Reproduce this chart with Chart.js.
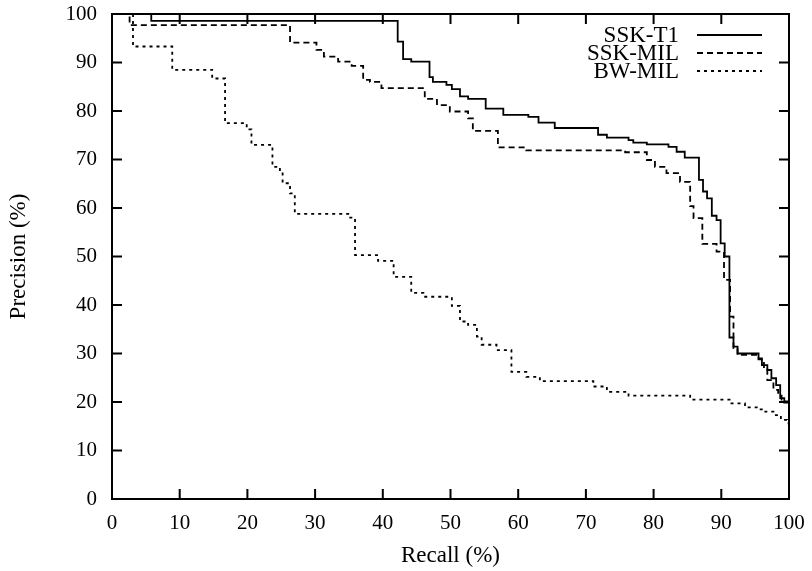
<!DOCTYPE html>
<html><head><meta charset="utf-8">
<script src="https://cdn.jsdelivr.net/npm/chart.js@4.4.1/dist/chart.umd.min.js"></script>
<style>html,body{margin:0;padding:0;background:#fff}#wrap{width:812px;height:571px}</style>
</head><body><div id="wrap"><canvas id="c" width="812" height="571"></canvas></div>
<script>
const seriesNames = ['SSK-T1', 'SSK-MIL', 'BW-MIL'];
const xTicks = [0, 10, 20, 30, 40, 50, 60, 70, 80, 90, 100];
const yTicks = [0, 10, 20, 30, 40, 50, 60, 70, 80, 90, 100];

const sskT1Recall = [0, 5.8, 42.2, 43.0, 44.2, 46.9, 47.4, 49.4, 50.2, 51.4, 52.6, 55.2, 57.8, 61.5, 63.0, 65.4, 71.8, 73.1, 76.3, 77.0, 79.0, 82.2, 83.4, 84.6, 86.7, 87.3, 87.9, 88.6, 89.3, 89.9, 90.5, 91.2, 91.8, 92.4, 95.5, 96.0, 96.8, 97.4, 98.1, 98.7, 99.3, 100];
const sskT1Precision = [100, 98.6, 94.3, 90.7, 90.2, 87.0, 86.0, 85.4, 84.5, 83.0, 82.5, 80.5, 79.2, 78.8, 77.6, 76.5, 75.1, 74.5, 74.0, 73.5, 73.1, 72.6, 71.6, 70.4, 65.8, 63.4, 62.0, 58.4, 57.5, 52.7, 50.0, 33.3, 31.4, 30.0, 29.0, 27.6, 26.6, 24.9, 23.5, 20.8, 19.9, 19.9];

const sskMilRecall = [0, 2.6, 26.3, 30.2, 31.3, 33.4, 35.4, 37.1, 38.1, 39.8, 46.2, 48.0, 49.9, 52.6, 53.3, 57.0, 61.2, 75.8, 79.0, 80.2, 81.9, 83.9, 85.4, 85.9, 87.2, 89.3, 90.4, 91.3, 91.8, 92.4, 95.5, 96.3, 96.8, 97.7, 98.4, 98.9, 100];
const sskMilPrecision = [100, 97.7, 94.1, 92.6, 91.2, 90.2, 89.3, 86.4, 86.0, 84.7, 82.5, 81.2, 79.9, 78.5, 75.9, 72.5, 71.9, 71.5, 69.9, 68.5, 67.2, 65.4, 60.4, 57.9, 52.6, 51.0, 45.2, 37.6, 31.1, 29.7, 28.8, 27.0, 24.5, 22.5, 21.3, 20.1, 19.5];

const bwMilRecall = [0, 3.1, 8.9, 14.8, 16.7, 19.9, 20.6, 23.7, 24.8, 25.2, 26.3, 27.0, 34.9, 35.9, 39.3, 41.6, 44.2, 46.0, 50.2, 51.4, 52.6, 53.9, 54.6, 56.8, 59.0, 61.2, 63.2, 71.1, 73.1, 76.3, 85.4, 91.5, 93.5, 95.5, 96.5, 97.7, 98.8, 99.7, 100];
const bwMilPrecision = [100, 93.3, 88.5, 86.7, 77.5, 76.2, 73.0, 68.5, 67.8, 65.1, 63.0, 58.8, 58.0, 50.3, 49.1, 45.8, 42.5, 41.7, 39.8, 36.6, 35.9, 33.5, 31.8, 30.7, 26.2, 25.2, 24.3, 23.2, 22.1, 21.3, 20.5, 19.7, 18.9, 18.5, 18.0, 17.3, 16.3, 15.6, 15.5];

const FAMILY = '"Liberation Serif", "Times New Roman", serif';
const TICK_FONT = {family: FAMILY, size: 21};
const TITLE_FONT = {family: FAMILY, size: 23};
const LEGEND_SIZE = 23;
const dashes = [[], [6, 4], [3, 4]];

function pts(xs, ys) { return xs.map((x, i) => ({x: x, y: ys[i]})); }

const datasets = [
  {label: seriesNames[0], data: pts(sskT1Recall, sskT1Precision)},
  {label: seriesNames[1], data: pts(sskMilRecall, sskMilPrecision)},
  {label: seriesNames[2], data: pts(bwMilRecall, bwMilPrecision)}
].map((d, i) => Object.assign(d, {
  borderColor: '#000', backgroundColor: '#000', borderWidth: 1.8,
  borderDash: dashes[i], pointRadius: 0, stepped: true, fill: false, tension: 0
}));

const framePlugin = {
  id: 'frame',
  afterDatasetsDraw(chart) {
    const {ctx, chartArea: a, scales} = chart;
    ctx.save();
    ctx.strokeStyle = '#000';
    ctx.lineWidth = 2;
    ctx.setLineDash([]);
    ctx.strokeRect(a.left, a.top, a.right - a.left, a.bottom - a.top);
    const tl = 10;
    ctx.beginPath();
    xTicks.forEach(v => {
      const px = scales.x.getPixelForValue(v);
      ctx.moveTo(px, a.bottom); ctx.lineTo(px, a.bottom - tl);
      ctx.moveTo(px, a.top); ctx.lineTo(px, a.top + tl);
    });
    yTicks.forEach(v => {
      const py = scales.y.getPixelForValue(v);
      ctx.moveTo(a.left, py); ctx.lineTo(a.left + tl, py);
      ctx.moveTo(a.right, py); ctx.lineTo(a.right - tl, py);
    });
    ctx.stroke();
    // legend (gnuplot style: text right-aligned, sample to its right)
    ctx.font = LEGEND_SIZE + 'px ' + FAMILY;
    ctx.fillStyle = '#000';
    ctx.textAlign = 'right';
    ctx.textBaseline = 'middle';
    const rowOffset = [21, 39, 57];
    const textRight = a.right - 110, lineL = a.right - 92, lineR = a.right - 27;
    chart.data.datasets.forEach((ds, i) => {
      const y = a.top + rowOffset[i];
      ctx.fillText(ds.label, textRight, y + 1);
      ctx.beginPath();
      ctx.lineWidth = 1.8;
      ctx.setLineDash(ds.borderDash || []);
      ctx.moveTo(lineL, y); ctx.lineTo(lineR, y);
      ctx.stroke();
    });
    ctx.restore();
  }
};

new Chart(document.getElementById('c'), {
  type: 'line',
  data: {datasets},
  options: {
    responsive: false, animation: false, devicePixelRatio: 1,
    layout: {padding: {left: 0, right: 23, top: 14, bottom: 0}},
    plugins: {legend: {display: false}, tooltip: {enabled: false}},
    scales: {
      x: {
        type: 'linear', min: 0, max: 100,
        afterFit(s) { s.height = 72; s.paddingLeft = 0; s.paddingRight = 0; },
        afterBuildTicks(s) { s.ticks = xTicks.map(v => ({value: v})); },
        ticks: {font: TICK_FONT, color: '#000', padding: 12, maxRotation: 0, autoSkip: false},
        grid: {display: false, drawTicks: false}, border: {display: false},
        title: {display: true, text: 'Recall (%)', font: TITLE_FONT, color: '#000', padding: {top: 0, bottom: 1}}
      },
      y: {
        type: 'linear', min: 0, max: 100,
        afterFit(s) { s.width = 112; s.paddingTop = 0; s.paddingBottom = 0; },
        afterBuildTicks(s) { s.ticks = yTicks.map(v => ({value: v})); },
        ticks: {font: TICK_FONT, color: '#000', padding: 15, autoSkip: false},
        grid: {display: false, drawTicks: false}, border: {display: false},
        title: {display: true, text: 'Precision (%)', font: TITLE_FONT, color: '#000', padding: {top: 5, bottom: 0}}
      }
    }
  },
  plugins: [framePlugin]
});
</script>
</body></html>
